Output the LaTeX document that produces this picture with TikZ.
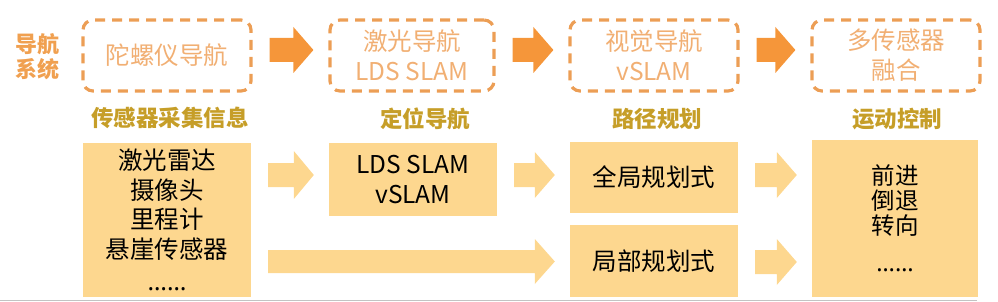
\documentclass[tikz,border=0pt]{standalone}
\usepackage{fontspec}
\setmainfont{Noto Sans CJK SC}
\newfontfamily\latinfont{Noto Sans}
\usetikzlibrary{calc}
\definecolor{arroworange}{RGB}{245,150,58}
\definecolor{dashorange}{RGB}{236,158,85}
\definecolor{dashtext}{RGB}{241,175,115}
\definecolor{navorange}{RGB}{240,160,80}
\definecolor{labelgold}{RGB}{198,158,40}
\definecolor{boxfill}{RGB}{253,215,143}
\definecolor{rulegray}{RGB}{195,195,195}
\tikzset{
  dashbox/.style={draw=dashorange, line width=3.2pt, dash pattern=on 10pt off 7pt,
    rounded corners=10pt, minimum width=168pt, minimum height=71pt, text=dashtext,
    font=\fontsize{24.5}{30}\selectfont, align=center, inner sep=0pt},
  solidbox/.style={fill=boxfill, minimum width=168pt, align=center, inner sep=0pt,
    font=\fontsize{24.5}{29.5}\selectfont, text=black},
  steplabel/.style={text=labelgold, font=\fontsize{22.5}{27}\bfseries\selectfont},
  navlabel/.style={text=navorange, align=center, font=\fontsize{22}{25}\bfseries\selectfont},
  toparrow/.style={fill=arroworange},
  lowarrow/.style={fill=boxfill},
}
% block arrow: style, from node, to node, y centre, shaft half height, head half height
\newcommand\blockarrow[6]{%
  \fill[#1] let \p1=(#2.east), \p2=(#3.west) in
    (\x1+17pt,#4pt+#5pt) -- (\x2-35pt,#4pt+#5pt) -- (\x2-35pt,#4pt+#6pt) --
    (\x2-15pt,#4pt) -- (\x2-35pt,#4pt-#6pt) -- (\x2-35pt,#4pt-#5pt) --
    (\x1+17pt,#4pt-#5pt) -- cycle;}
\begin{document}
\begin{tikzpicture}[x=1pt,y=1pt]
\useasboundingbox (0,0) rectangle (998,-302);
% top row
\node[navlabel] (sys) at (38,-57) {导航\\系统};
\node[dashbox] (d1) at (167,-55.5) {陀螺仪导航};
\node[dashbox, minimum width=164pt] (d2) at (412,-55.5) {激光导航\\LDS SLAM};
\node[dashbox] (d3) at (654,-55.5) {视觉导航\\vSLAM};
\node[dashbox] (d4) at (896,-55.5) {多传感器\\融合};
\blockarrow{toparrow}{d1}{d2}{-50}{12}{23}
\blockarrow{toparrow}{d2}{d3}{-50}{12}{23}
\blockarrow{toparrow}{d3}{d4}{-50}{12}{23}
% labels
\node[steplabel] (l1) at (170,-118) {传感器采集信息};
\node[steplabel] (l2) at (425,-119) {定位导航};
\node[steplabel] (l3) at (657,-119) {路径规划};
\node[steplabel] (l4) at (897,-119) {运动控制};
% bottom row
\node[solidbox, minimum height=154pt] (A) at (167,-220)
  {激光雷达\\摄像头\\里程计\\悬崖传感器\\[3pt]{\latinfont ……}};
\node[solidbox, minimum height=73pt] (B) at (413,-179.5) {LDS SLAM\\vSLAM};
\node[solidbox, minimum height=71pt] (C) at (654,-177.5) {全局规划式};
\node[solidbox, minimum height=72pt] (D) at (654,-261) {局部规划式};
\node[solidbox, minimum width=166pt, minimum height=157pt,
  font=\fontsize{23.5}{25}\selectfont] (E) at (895,-218.5)
  {前进\\倒退\\转向\\[12pt]{\latinfont ……}};
\blockarrow{lowarrow}{A}{B}{-175}{12}{24}
\blockarrow{lowarrow}{B}{C}{-175}{12}{23}
\blockarrow{lowarrow}{C}{E}{-175}{12}{23}
\blockarrow{lowarrow}{D}{E}{-262}{12}{23}
\blockarrow{lowarrow}{A}{D}{-261.5}{11.5}{22.5}
% bottom rule
\draw[rulegray, line width=1.5pt] (0,-300.5) -- (977,-300.5);
\end{tikzpicture}
\end{document}
